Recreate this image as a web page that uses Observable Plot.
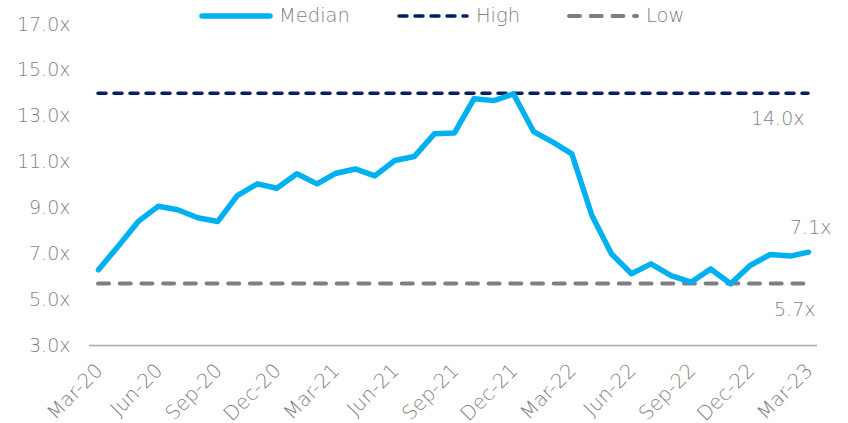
<!DOCTYPE html>
<html><head><meta charset="utf-8">
<script src="https://cdn.jsdelivr.net/npm/d3@7"></script>
<script src="https://cdn.jsdelivr.net/npm/@observablehq/plot@0.6"></script>
<style>
body{margin:0;background:#fff;}
#wrap{position:relative;width:848px;height:423px;font-family:"DejaVu Sans",sans-serif;}
#legend{position:absolute;top:4px;left:199px;display:flex;align-items:center;font-size:19.5px;color:#7f7f7f;font-weight:300;}
#legend .item{display:flex;align-items:center;margin-right:46px;}
#legend svg{margin-right:6px;}
</style>
</head><body>
<div id="wrap"><div id="legend"></div></div>
<script>
const startMonth = new Date(Date.UTC(2020, 2, 1));
const monthCount = 37;
const medianValues = [6.3, 7.35, 8.4, 9.07, 8.92, 8.57, 8.41, 9.54, 10.05, 9.86, 10.49, 10.05, 10.5, 10.7, 10.4, 11.07, 11.24, 12.23, 12.27, 13.76, 13.68, 13.97, 12.33, 11.85, 11.36, 8.67, 7.0, 6.13, 6.56, 6.05, 5.76, 6.34, 5.69, 6.49, 6.97, 6.9, 7.07];
const highValue = 14.0;
const lowValue = 5.7;
const lastLabel = "7.1x";
const highLabel = "14.0x";
const lowLabel = "5.7x";
const yTicks = [3, 5, 7, 9, 11, 13, 15, 17];
const xTickLabels = ["Mar-20","Jun-20","Sep-20","Dec-20","Mar-21","Jun-21","Sep-21","Dec-21","Mar-22","Jun-22","Sep-22","Dec-22","Mar-23"];
const seriesNames = ["Median", "High", "Low"];

const months = d3.utcMonth.range(startMonth, d3.utcMonth.offset(startMonth, monthCount));
const data = months.map((d, i) => ({date: d, value: medianValues[i]}));
const parseTick = d3.utcParse("%b-%y");
const xTicks = xTickLabels.map(parseTick);
const first = months[0], last = months[months.length - 1];

const colMedian = "#00b0f0", colHigh = "#002060", colLow = "#7f7f7f", textCol = "#7f7f7f";

const chart = Plot.plot({
  width: 848, height: 423,
  marginLeft: 89, marginRight: 31, marginTop: 24, marginBottom: 78,
  style: {fontFamily: '"DejaVu Sans", sans-serif', fontSize: "19px", color: textCol, fontWeight: 300, background: "#fff"},
  x: {type: "utc", domain: [first, last], insetLeft: 9, insetRight: 9},
  y: {domain: [3, 17]},
  marks: [
    Plot.axisY({ticks: yTicks, tickSize: 0, dx: -10, tickFormat: d => d.toFixed(1) + "x", label: null, fill: textCol}),
    Plot.axisX({ticks: xTicks, tickSize: 0, dy: 10, dx: 1, tickRotate: -45, fontSize: 20, tickFormat: d3.utcFormat("%b-%y"), label: null, fill: textCol}),
    Plot.ruleY([3], {stroke: "#a6a9b4", strokeWidth: 1.5}),
    Plot.ruleY([lowValue], {x1: first, x2: last, stroke: colLow, strokeWidth: 4, strokeDasharray: "11,10.7", strokeLinecap: "round"}),
    Plot.ruleY([highValue], {x1: first, x2: last, stroke: colHigh, strokeWidth: 3.5, strokeDasharray: "8,8", strokeLinecap: "round"}),
    Plot.line(data, {x: "date", y: "value", stroke: colMedian, strokeWidth: 5.5, strokeLinejoin: "round", strokeLinecap: "round"}),
    Plot.text([{date: last, value: highValue, t: highLabel}], {x: "date", y: "value", text: "t", textAnchor: "end", dx: -4, dy: 26, fill: textCol}),
    Plot.text([{date: last, value: lowValue, t: lowLabel}], {x: "date", y: "value", text: "t", textAnchor: "end", dx: 7, dy: 26, fill: textCol}),
    Plot.text([{date: last, value: medianValues[medianValues.length - 1], t: lastLabel}], {x: "date", y: "value", text: "t", textAnchor: "end", dx: 23, dy: -24, fill: textCol})
  ]
});
document.getElementById("wrap").appendChild(chart);

const swatches = {
  Median: `<svg width="74" height="10"><line x1="3" y1="5" x2="71" y2="5" stroke="${colMedian}" stroke-width="5.5" stroke-linecap="round"/></svg>`,
  High: `<svg width="74" height="10"><line x1="3" y1="5" x2="71" y2="5" stroke="${colHigh}" stroke-width="3.5" stroke-dasharray="8,8" stroke-linecap="round"/></svg>`,
  Low: `<svg width="74" height="10"><line x1="3" y1="5" x2="71" y2="5" stroke="${colLow}" stroke-width="4" stroke-dasharray="11,10.7" stroke-linecap="round"/></svg>`
};
const legend = document.getElementById("legend");
seriesNames.forEach(n => {
  const div = document.createElement("div");
  div.className = "item";
  div.innerHTML = swatches[n] + `<span>${n}</span>`;
  legend.appendChild(div);
});
</script>
</body></html>
